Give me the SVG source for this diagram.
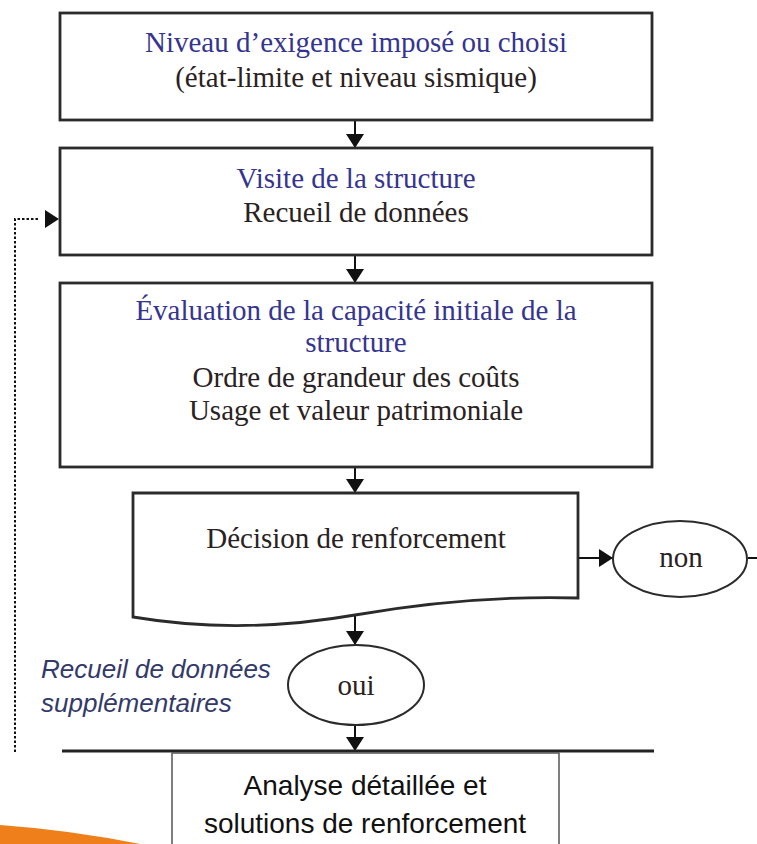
<svg xmlns="http://www.w3.org/2000/svg" width="757" height="844" viewBox="0 0 757 844">
<defs>
<style>
.box{fill:#fff;stroke:#2b2b2b;stroke-width:2.8}
.ell{fill:#fff;stroke:#2b2b2b;stroke-width:2}
.t{font-family:"Liberation Serif","Times New Roman",serif;font-size:29px;text-anchor:middle}
.blue{fill:#35358f}
.dark{fill:#2a2222}
.ln{stroke:#111;stroke-width:2;fill:none}
.dot{stroke:#111;stroke-width:2;fill:none;stroke-dasharray:2.5 2}
.it{font-family:"Liberation Sans",Arial,sans-serif;font-style:italic;font-size:26px;fill:#333a6a}
.cal{font-family:"Liberation Sans",Arial,sans-serif;font-size:28px;fill:#111;text-anchor:middle}
</style>
<marker id="ah" markerWidth="14" markerHeight="18" refX="14" refY="9" orient="auto" markerUnits="userSpaceOnUse">
<path d="M0,0 L14,9 L0,18 Z" fill="#111"/>
</marker>
</defs>
<rect width="757" height="844" fill="#fff"/>
<path d="M0,825 Q70,830 140,844 L0,844 Z" fill="#ee7f1a"/>
<g id="connectors">
<line class="ln" x1="355" y1="120" x2="355" y2="148" marker-end="url(#ah)"/>
<line class="ln" x1="355" y1="255" x2="355" y2="283" marker-end="url(#ah)"/>
<line class="ln" x1="355" y1="467" x2="355" y2="493" marker-end="url(#ah)"/>
<line class="ln" x1="355" y1="615" x2="355" y2="645" marker-end="url(#ah)"/>
<line class="ln" x1="355" y1="725" x2="355" y2="751" marker-end="url(#ah)"/>
<line class="ln" x1="578" y1="558" x2="613" y2="558" marker-end="url(#ah)"/>
<line class="ln" x1="748" y1="558" x2="757" y2="558"/>
<path class="dot" d="M15,752 L15,219 L40,219"/>
<line x1="38" y1="219" x2="59" y2="219" stroke="#111" stroke-width="0" marker-end="url(#ah)"/>
<line x1="62" y1="751" x2="654" y2="751" stroke="#222" stroke-width="3"/>
</g>
<g id="n1">
<rect class="box" x="60" y="13" width="592" height="107"/>
<text class="t blue" x="356" y="52">Niveau d’exigence imposé ou choisi</text>
<text class="t dark" x="356" y="87">(état-limite et niveau sismique)</text>
</g>
<g id="n2">
<rect class="box" x="60" y="148" width="592" height="107"/>
<text class="t blue" x="356" y="188">Visite de la structure</text>
<text class="t dark" x="356" y="222">Recueil de données</text>
</g>
<g id="n3">
<rect class="box" x="60" y="283" width="592" height="184"/>
<text class="t blue" x="356" y="320">Évaluation de la capacité initiale de la</text>
<text class="t blue" x="356" y="352">structure</text>
<text class="t dark" x="356" y="387">Ordre de grandeur des coûts</text>
<text class="t dark" x="356" y="420">Usage et valeur patrimoniale</text>
</g>
<g id="n4">
<path class="box" d="M133,493 L578,493 L578,598 Q470,595 355,615 Q240,635 133,617 Z"/>
<text class="t dark" x="356" y="548">Décision de renforcement</text>
</g>
<g id="non">
<ellipse class="ell" cx="680" cy="559" rx="67" ry="38"/>
<text class="t dark" x="681" y="567">non</text>
</g>
<g id="oui">
<ellipse class="ell" cx="356" cy="685" rx="68" ry="40"/>
<text class="t dark" x="356" y="695">oui</text>
</g>
<g id="label">
<text class="it" x="41" y="678">Recueil de données</text>
<text class="it" x="41" y="712">supplémentaires</text>
</g>
<g id="n5">
<rect x="172" y="753" width="387" height="100" fill="#fff" stroke="#555" stroke-width="1.5"/>
<text class="cal" x="365" y="795">Analyse détaillée et</text>
<text class="cal" x="365" y="833">solutions de renforcement</text>
</g>
</svg>
